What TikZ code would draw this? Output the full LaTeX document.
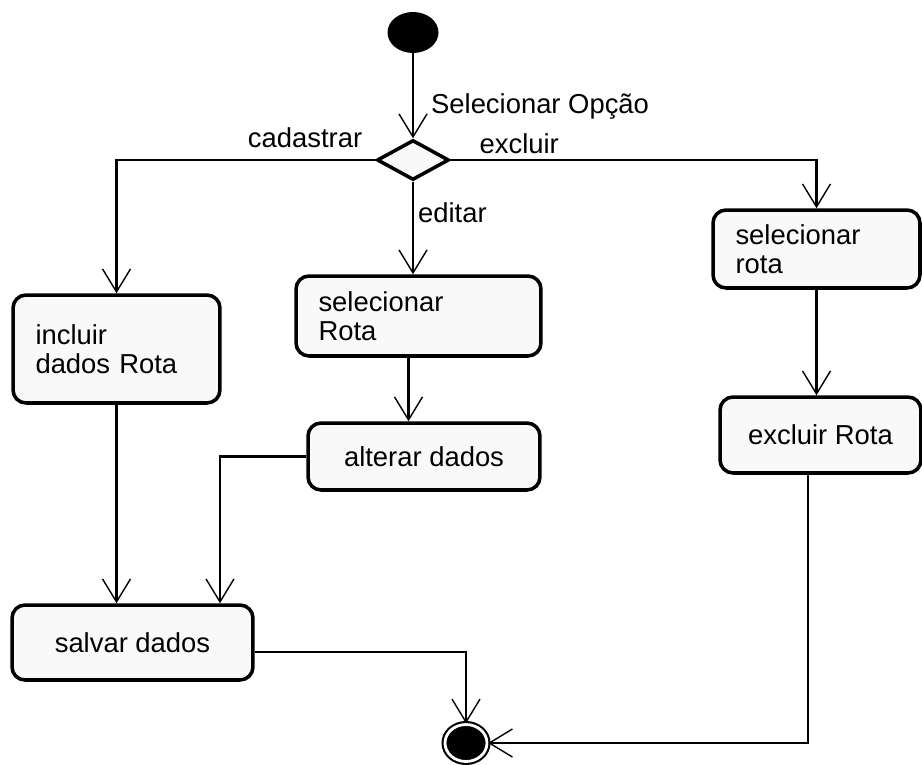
\documentclass[tikz,border=0pt]{standalone}
\usepackage{fontspec}
\setmainfont{Liberation Sans}
\usetikzlibrary{arrows.meta,shapes.geometric}

\tikzset{
  acao/.style={draw, line width=2pt, rounded corners=0.26cm, fill=gray!5, inner xsep=0.45cm, inner ysep=0pt},
  seta/.style={line width=1.3pt, -{Straight Barb[length=0.46cm, width=0.56cm, line width=0.8pt]}},
  rotulo/.style={inner sep=0pt},
}

\begin{document}
\begin{tikzpicture}[x=0.02cm, y=-0.02cm, font=\fontsize{15.6}{16.5}\selectfont]
  \useasboundingbox (0,0) rectangle (922,764);

  % Estados inicial e final
  \node[ellipse, fill=black, minimum width=1.02cm, minimum height=0.82cm, inner sep=0pt] (inicio) at (413,32.5) {};
  \node[ellipse, draw, line width=1.2pt, double=white, double distance=1.6pt, fill=black,
        minimum width=0.84cm, minimum height=0.74cm, inner sep=0pt] (fim) at (466,743) {};

  % Decisao
  \node[diamond, draw, line width=2pt, fill=gray!5, minimum width=1.44cm, minimum height=0.8cm, inner sep=0pt] (decisao) at (413,160) {};

  % Acoes
  \node[acao, text width=3.24cm, align=left, minimum height=2.16cm] (incluir) at (116.5,349) {incluir\\dados Rota};
  \node[acao, text width=4.0cm, align=left, minimum height=1.6cm] (selRota) at (418.5,316) {selecionar\\Rota};
  \node[acao, minimum width=4.64cm, minimum height=1.34cm] (alterar) at (424,456.5) {alterar dados};
  \node[acao, text width=3.24cm, align=left, minimum height=1.56cm] (selRotaDir) at (816.5,249) {selecionar\\rota};
  \node[acao, minimum width=4.02cm, minimum height=1.52cm] (excluirRota) at (820.5,435) {excluir Rota};
  \node[acao, minimum width=4.82cm, minimum height=1.5cm] (salvar) at (132.5,642.5) {salvar dados};

  % Transicoes
  \draw[seta] (inicio) -- node[rotulo, pos=0.71, anchor=base west, xshift=0.34cm] {Selecionar Opção} (decisao);
  \draw[seta] (decisao.west) -| node[rotulo, pos=0.023, anchor=base east, yshift=0.26cm] {cadastrar} (incluir.north);
  \draw[seta] (decisao.south) -- node[rotulo, pos=0.44, anchor=base west, xshift=0.08cm] {editar} (decisao.south |- selRota.north);
  \draw[seta] (decisao.east) -| node[rotulo, pos=0.038, anchor=base west, yshift=0.14cm] {excluir} (selRotaDir.north);

  \draw[seta] ([xshift=-0.2cm]selRota.south) -- ([xshift=-0.2cm]selRota.south |- alterar.north);
  \draw[seta] (alterar.west) -| ([xshift=1.75cm]salvar.north);
  \draw[seta] (incluir.south) -- (incluir.south |- salvar.north);
  \draw[seta] (selRotaDir.south) -- (selRotaDir.south |- excluirRota.north);

  \draw[seta] ([yshift=-0.19cm]salvar.east) -| (fim.north);
  \draw[seta] ([xshift=-0.25cm]excluirRota.south) |- (fim.east);
\end{tikzpicture}
\end{document}
